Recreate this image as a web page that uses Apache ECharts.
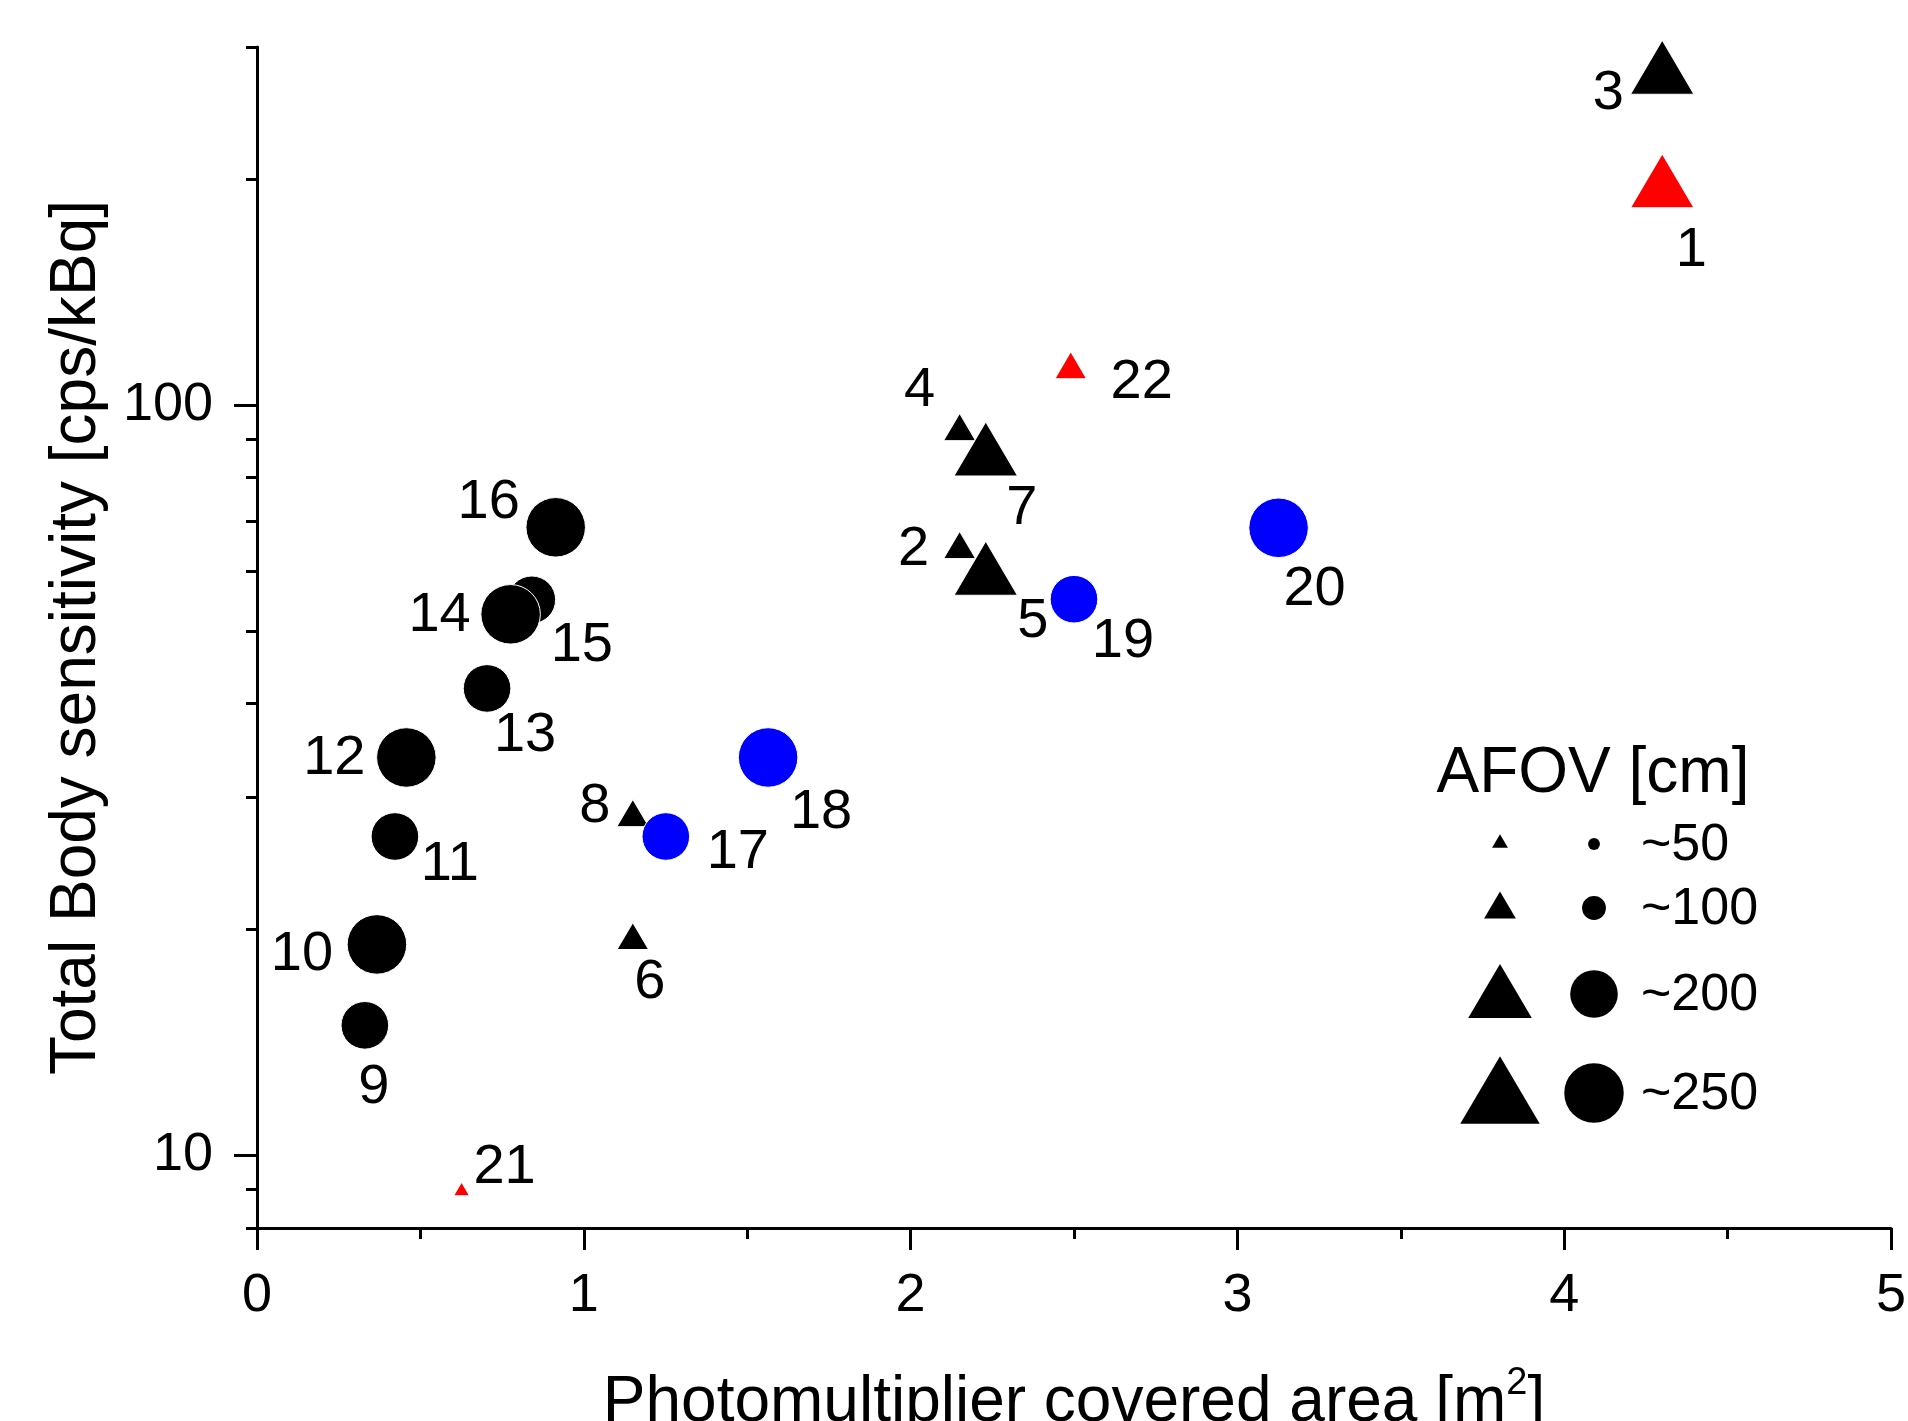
<!DOCTYPE html>
<html>
<head>
<meta charset="utf-8">
<script src="https://cdn.jsdelivr.net/npm/echarts@6/dist/echarts.min.js"></script>
<style>
html,body{margin:0;padding:0;background:#fff;}
#chart{width:1908px;height:1421px;}
</style>
</head>
<body>
<div id="chart"></div>
<script>
// ---- data ----
const ids   = ['1','2','3','4','5','6','7','8','9','10','11','12','13','14','15','16','17','18','19','20','21','22'];
const area  = [4.30, 2.15, 4.30, 2.15, 2.23, 1.15, 2.23, 1.15, 0.33, 0.367, 0.422, 0.457, 0.704, 0.776, 0.841, 0.914, 1.251, 1.564, 2.50, 3.126, 0.626, 2.49];
const sens  = [199, 65.1, 282, 93.5, 60.6, 19.6, 87.4, 28.6, 14.9, 19.1, 26.6, 33.9, 41.9, 52.6, 55.0, 68.7, 26.6, 33.9, 55.1, 68.6, 9.02, 113];
const afov  = [200, 100, 200, 100, 200, 100, 200, 100, 200, 250, 200, 250, 200, 250, 200, 250, 200, 250, 200, 250, 50, 100];
const group = ['redTri','tri','tri','tri','tri','tri','tri','tri','circ','circ','circ','circ','circ','circ','circ','circ','blueCirc','blueCirc','blueCirc','blueCirc','redTri','redTri'];

const yLabelValues = [10, 100];
const yMinorTickValues = [8, 9, 20, 30, 40, 50, 60, 70, 80, 90, 200, 300];
const legendKeys = [50, 100, 200, 250];
const legendLabels = ['~50', '~100', '~200', '~250'];

// ---- styling / layout ----
const FONT = '"Liberation Sans", Arial, Helvetica, sans-serif';
const TRI_K = 0.318, TRI_H = 0.85, CIRC_K = 0.238;
const LABEL_DY = 4;
const labelOffset = {
  '1':[29,66], '2':[-46,1], '3':[-54,22], '4':[-40,-40], '5':[47,49], '6':[17,43], '7':[36,56], '8':[-38,-10],
  '9':[9,58], '10':[-75,6], '11':[55,24], '12':[-72,-3], '13':[38,43], '14':[-71,-3], '15':[50,42], '16':[-67,-29],
  '17':[72,12], '18':[53,51], '19':[49,38], '20':[36,58], '21':[43,-25], '22':[71,13]
};
const legendRowY = [841, 905, 991, 1090];
const legendTriX = 1500, legendCircX = 1594, legendTextX = 1641;
const LEGEND_TEXT_DY = 5, LEGEND_CIRC_DY = 3;

function makeSeries(g, symbol, color) {
  const idx = ids.map((_, i) => i).filter(i => group[i] === g).sort((a, b) => afov[a] - afov[b]);
  return {
    type: 'scatter',
    symbol: symbol,
    data: idx.map(i => ({
      name: ids[i],
      value: [area[i], sens[i], afov[i]],
      label: { offset: [labelOffset[ids[i]][0], labelOffset[ids[i]][1] + LABEL_DY] }
    })),
    symbolSize: v => symbol === 'triangle' ? [v[2] * TRI_K, v[2] * TRI_K * TRI_H] : v[2] * CIRC_K,
    itemStyle: { color: color, opacity: 1, borderColor: '#fff', borderWidth: 1 },
    label: {
      show: true, position: 'inside', formatter: p => p.name,
      color: '#000', fontSize: 56, fontFamily: FONT, textBorderWidth: 0,
      align: 'center', verticalAlign: 'middle'
    },
    emphasis: { disabled: true },
    animation: false
  };
}

const graphics = [];
graphics.push({
  type: 'text', z: 100,
  style: { text: 'AFOV [cm]', x: 1593, y: 769 + LEGEND_TEXT_DY, fontSize: 64, fontFamily: FONT, fill: '#000',
           textAlign: 'center', align: 'center', textVerticalAlign: 'middle', verticalAlign: 'middle' }
});
legendKeys.forEach((k, r) => {
  const y = legendRowY[r];
  const w = k * TRI_K, h = w * TRI_H, d = k * CIRC_K;
  graphics.push({ type: 'polygon', z: 100, shape: { points: [[legendTriX, y - h / 2], [legendTriX + w / 2, y + h / 2], [legendTriX - w / 2, y + h / 2]] }, style: { fill: '#000' } });
  graphics.push({ type: 'circle', z: 100, shape: { cx: legendCircX, cy: y + LEGEND_CIRC_DY, r: d / 2 }, style: { fill: '#000' } });
  graphics.push({ type: 'text', z: 100, style: { text: legendLabels[r], x: legendTextX, y: y + LEGEND_TEXT_DY, fontSize: 52, fontFamily: FONT, fill: '#000',
    textAlign: 'left', align: 'left', textVerticalAlign: 'middle', verticalAlign: 'middle' } });
});

const chart = echarts.init(document.getElementById('chart'), null, { renderer: 'canvas' });
const axisLineStyle = { color: '#000', width: 3 };
chart.setOption({
  animation: false,
  backgroundColor: '#fff',
  textStyle: { fontFamily: FONT },
  grid: { left: 257, right: 17, top: 47, bottom: 193, containLabel: false, outerBoundsMode: 'none' },
  xAxis: {
    type: 'value', min: 0, max: 5, interval: 1,
    name: '{n|Photomultiplier covered area [m}{s|2}{n|]}',
    nameLocation: 'middle', nameGap: 137,
    nameTextStyle: { color: '#000', fontFamily: FONT, fontSize: 64, lineHeight: 76,
      rich: { n: { fontSize: 64, lineHeight: 76, fontFamily: FONT, color: '#000' },
              s: { fontSize: 38, verticalAlign: 'top', fontFamily: FONT, color: '#000' } } },
    axisLine: { show: true, lineStyle: axisLineStyle },
    axisTick: { show: true, inside: false, length: 22, lineStyle: axisLineStyle },
    minorTick: { show: true, splitNumber: 2, length: 11, lineStyle: axisLineStyle },
    axisLabel: { color: '#000', fontSize: 54, fontFamily: FONT, margin: 41 },
    splitLine: { show: false }, minorSplitLine: { show: false }
  },
  yAxis: [
    {
      type: 'log', logBase: 10, min: 8, max: 300, position: 'left',
      name: 'Total Body sensitivity [cps/kBq]', nameLocation: 'middle', nameGap: 148, nameRotate: 90,
      nameTextStyle: { color: '#000', fontFamily: FONT, fontSize: 64 },
      axisLine: { show: true, lineStyle: axisLineStyle },
      axisTick: { show: true, inside: false, length: 23, lineStyle: axisLineStyle, customValues: yLabelValues },
      axisLabel: { color: '#000', fontSize: 54, fontFamily: FONT, margin: 44, customValues: yLabelValues },
      splitLine: { show: false }
    },
    {
      type: 'log', logBase: 10, min: 8, max: 300, position: 'left',
      axisLine: { show: false },
      axisTick: { show: true, inside: false, length: 11, lineStyle: axisLineStyle, customValues: yMinorTickValues },
      axisLabel: { show: false },
      splitLine: { show: false }
    }
  ],
  series: [
    makeSeries('tri', 'triangle', '#000000'),
    makeSeries('redTri', 'triangle', '#ff0000'),
    makeSeries('circ', 'circle', '#000000'),
    makeSeries('blueCirc', 'circle', '#0000ff')
  ],
  graphic: graphics
});
</script>
</body>
</html>
